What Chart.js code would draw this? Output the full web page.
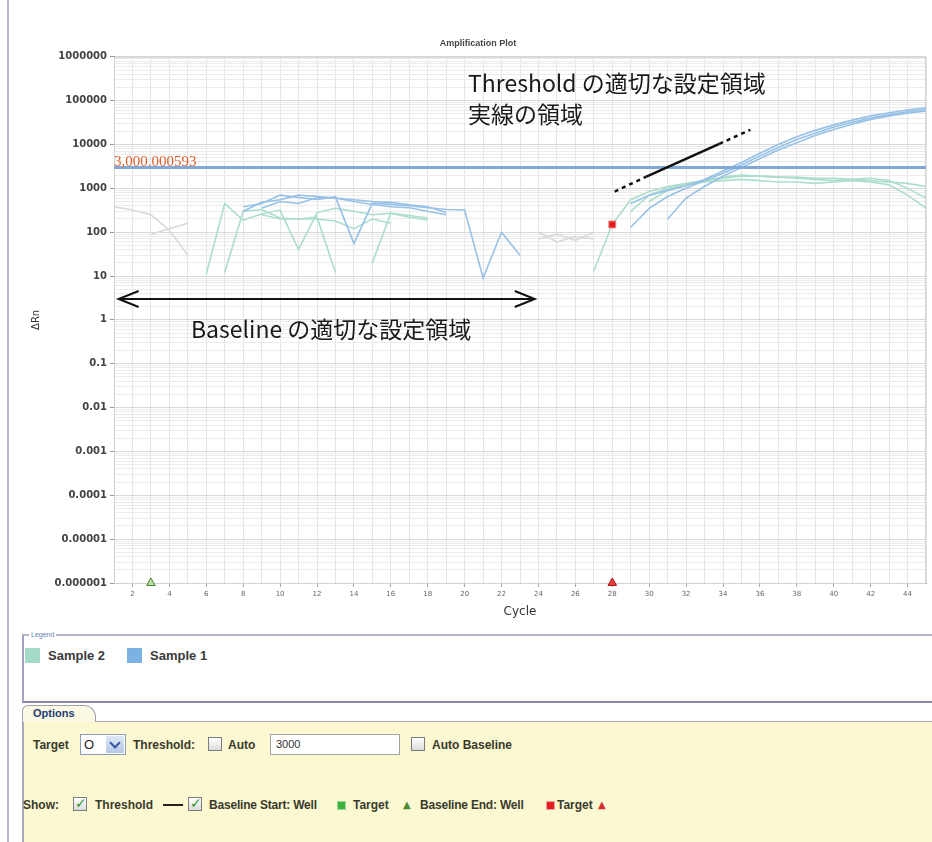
<!DOCTYPE html>
<html><head><meta charset="utf-8">
<script src="https://cdn.jsdelivr.net/npm/chart.js@4.4.1/dist/chart.umd.min.js"></script>
<style>
html,body{margin:0;padding:0;background:#fff;}
body{width:932px;height:842px;overflow:hidden;position:relative;font-family:"Liberation Sans",Arial,sans-serif;}
.abs{position:absolute;white-space:nowrap;}
.jp{font-family:"Noto Sans CJK JP","Noto Sans",sans-serif;font-size:23px;line-height:23px;color:#1a1a1a;}
.opt{font-size:12px;font-weight:bold;color:#3a3a2c;line-height:14px;}
.cb{position:absolute;width:14px;height:14px;border:1px solid #7c7c7c;background:linear-gradient(#ffffff,#dcdcdc);box-sizing:border-box;}
.cb.on::after{content:"\2713";position:absolute;left:1px;top:-3px;font-size:14px;font-weight:bold;color:#2f9a2f;font-family:"DejaVu Sans",sans-serif;}
</style></head>
<body>
<div class="abs" style="left:0;top:0;width:932px;height:630px;"><canvas id="c" width="932" height="630"></canvas></div>
<div class="abs" style="left:7px;top:0;width:2px;height:842px;background:#b6b6d0;"></div>

<!-- annotation texts -->
<div class="abs jp" style="left:468px;top:71px;">Threshold の適切な設定領域</div>
<div class="abs jp" style="left:468px;top:102px;">実線の領域</div>
<div class="abs jp" style="left:191px;top:317px;">Baseline の適切な設定領域</div>

<!-- legend box -->
<div class="abs" style="left:22px;top:634px;width:912px;height:65px;border-top:2px solid #b4b4ca;border-left:2px solid #a4a4c0;border-bottom:2px solid #8a8ab0;"></div>
<div class="abs" style="left:29px;top:630px;font-size:7px;line-height:9px;color:#6684b4;background:#fff;padding:0 2px;">Legend</div>
<div id="legend" class="abs" style="left:25px;top:648px;display:flex;align-items:center;"></div>

<!-- options -->
<div class="abs" style="left:22px;top:721px;width:912px;height:121px;background:#fbf8d2;border-top:1px solid #a9a9b4;border-left:2px solid #a8a8b8;"></div>
<div class="abs" style="left:22px;top:705px;width:72px;height:16px;background:#fcfae4;border:1px solid #a0a0b0;border-bottom:none;border-radius:6px 12px 0 0;"></div>
<div class="abs" style="left:33px;top:707px;font-size:11px;font-weight:bold;color:#243c70;">Options</div>

<div class="abs opt" style="left:33px;top:738px;">Target</div>
<div class="abs" style="left:80px;top:734px;width:46px;height:21px;border:1px solid #8b9bbb;background:#fff;box-sizing:border-box;">
  <span class="abs" style="left:3px;top:2px;font-size:13px;color:#222;">O</span>
  <div class="abs" style="left:25px;top:1px;width:18px;height:17px;background:linear-gradient(#dfe8f6,#b6c8e6);"></div>
  <div class="abs" style="left:30px;top:4px;width:6px;height:6px;border-right:2px solid #3558a8;border-bottom:2px solid #3558a8;transform:rotate(45deg);"></div>
</div>
<div class="abs opt" style="left:133px;top:738px;">Threshold:</div>
<div class="cb" style="left:208px;top:737px;"></div>
<div class="abs opt" style="left:228px;top:738px;">Auto</div>
<div class="abs" style="left:270px;top:734px;width:130px;height:21px;border:1px solid #a4a4a4;background:#fff;box-sizing:border-box;font-size:11px;color:#333;padding:3px 5px;">3000</div>
<div class="cb" style="left:411px;top:737px;"></div>
<div class="abs opt" style="left:432px;top:738px;">Auto Baseline</div>

<div class="abs opt" style="left:23px;top:798px;">Show:</div>
<div class="cb on" style="left:73px;top:797px;"></div>
<div class="abs opt" style="left:95px;top:798px;">Threshold</div>
<div class="abs" style="left:163px;top:804px;width:20px;height:2px;background:#222;"></div>
<div class="cb on" style="left:188px;top:797px;"></div>
<div class="abs opt" style="left:209px;top:798px;letter-spacing:-0.2px;">Baseline Start: Well</div>
<div class="abs" style="left:337px;top:801px;width:7px;height:7px;background:#3cb43c;border:1px solid #9ad89a;"></div>
<div class="abs opt" style="left:353px;top:798px;">Target</div>
<div class="abs" style="left:403px;top:799px;font-size:10px;color:#4e8c34;font-family:'DejaVu Sans';">▲</div>
<div class="abs opt" style="left:420px;top:798px;letter-spacing:-0.2px;">Baseline End: Well</div>
<div class="abs" style="left:546px;top:801px;width:7px;height:7px;background:#e41c1c;border:1px solid #f4a0a0;"></div>
<div class="abs opt" style="left:557px;top:798px;">Target</div>
<div class="abs" style="left:598px;top:799px;font-size:10px;color:#d42c2c;font-family:'DejaVu Sans';">▲</div>

<script>
const _ = null;
// ---- data ----
const cycles = [1,2,3,4,5,6,7,8,9,10,11,12,13,14,15,16,17,18,19,20,21,22,23,24,25,26,27,28,29,30,31,32,33,34,35,36,37,38,39,40,41,42,43,44,45];
const xTickLabels = [2,4,6,8,10,12,14,16,18,20,22,24,26,28,30,32,34,36,38,40,42,44];
const yTickValues = [0.000001,0.00001,0.0001,0.001,0.01,0.1,1,10,100,1000,10000,100000,1000000];
const yTickLabels = ['0.000001','0.00001','0.0001','0.001','0.01','0.1','1','10','100','1000','10000','100000','1000000'];

const sampleNames = ['Sample 2','Sample 1'];
const sampleColors = ['#a6dac8','#7ab3e3'];

// Sample 1 wells (ΔRn per cycle)
const s1WellA = [_,_,_,_,_,_,_, 380,450,700,620,560,640,55,460,430,400,360,330,320,9,100,30, _,_,_,_,_, 130,350,650,1000,1500,2200,3400,5500,8500,13000,18000,25000,32000,40000,48000,56000,63000];
const s1WellB = [_,_,_,_,_,_,_, 300,480,550,700,650,600,550,500,480,420,380,280, _,_,_,_,_,_,_,_,_, 450,700,900,1150,1600,2500,3900,6300,10000,15000,21000,28000,36000,45000,53000,61000,69000];
const s1WellC = [_,_,_,_,_,_,_,_, 350,500,450,620,600,500,430,380,360,300,250, _,_,_,_,_,_,_,_,_,_,_, 200,600,1100,1900,3000,4800,7500,11000,16000,22000,29000,37000,45000,52000,58000];
// Sample 2 wells
const s2WellA = [_,_,_,_,_, 11,450,190,260,320,40,280,350,300,250,270,240,210, _,_,_,_,_,_,_,_, 13,150,550,850,1100,1300,1500,1700,1900,1900,1800,1700,1600,1500,1600,1700,1500,1000,600];
const s2WellB = [_,_,_,_,_,_, 12,300,330,210,200,220,12, _, 20,270,220,190, _,_,_,_,_,_,_,_,_,_,_, 500,900,1200,1500,1800,2000,1900,1800,1800,1700,1700,1600,1500,1400,1300,1100];
const s2WellC = [_,_,_,_,_,_,_,_, 250,200,200,200,180,120,200,160, _,_,_,_,_,_,_,_,_,_,_,_, 300,700,1000,1200,1400,1500,1600,1500,1400,1400,1300,1400,1500,1400,1200,700,350];
// faint background traces
const bgWellA = [380,320,250,110,30, _,_,_,_,_,_,_,_,_,_,_,_,_,_,_,_,_,_,_,_,_,_,_,_,_,_,_,_,_,_,_,_,_,_,_,_,_,_,_,_];
const bgWellB = [_,_,90,120,160, _,_,_,_,_,_,_,_,_,_,_,_,_,_,_,_,_,_,_,_,_,_,_,_,_,_,_,_,_,_,_,_,_,_,_,_,_,_,_,_];
const bgWellC = [_,_,_,_,_,_,_,_,_,_,_,_,_,_,_,_,_,_,_,_,_,_,_, 100,60,80,70, _,_,_,_,_,_,_,_,_,_,_,_,_,_,_,_,_,_];
const bgWellD = [_,_,_,_,_,_,_,_,_,_,_,_,_,_,_,_,_,_,_,_,_,_,_, 70,90,65,100, _,_,_,_,_,_,_,_,_,_,_,_,_,_,_,_,_,_];

const threshold = 3000;
const thresholdLabel = '3,000.000593';
const baselineStartCycle = 3;
const baselineEndCycle = 28;
const baselineEndValue = 150;

// annotation guides (data coordinates)
const baselineArrow = {from: 1.25, to: 23.8, value: 3};
const thresholdGuide = [[28.13, 845], [29.82, 1830], [33.8, 10350], [35.48, 21600]];

// ---- build ----
const lineColor = {'Sample 1': '#97c1e7', 'Sample 2': '#addecd', 'Background': '#d8d8d8'};
const wells = [
  ['Sample 1', s1WellA], ['Sample 1', s1WellB], ['Sample 1', s1WellC],
  ['Sample 2', s2WellA], ['Sample 2', s2WellB], ['Sample 2', s2WellC],
  ['Background', bgWellA], ['Background', bgWellB], ['Background', bgWellC], ['Background', bgWellD]
];

const datasets = [];
datasets.push({
  label: 'Baseline markers',
  data: [{x: baselineEndCycle, y: baselineEndValue}, {x: baselineStartCycle, y: yTickValues[0]}, {x: baselineEndCycle, y: yTickValues[0]}],
  showLine: false, clip: false,
  pointStyle: ['rect', 'triangle', 'triangle'],
  pointRadius: [5, 5, 5],
  pointBackgroundColor: ['#e41c1c', '#b9df9c', '#e04040'],
  pointBorderColor: ['#f29a9a', '#4b7d33', '#b01818'],
  pointBorderWidth: 1
});
datasets.push({
  label: 'Threshold',
  data: [{x: cycles[0], y: threshold}, {x: cycles[cycles.length - 1], y: threshold}],
  borderColor: '#80a9d8', borderWidth: 3, pointRadius: 0
});
wells.forEach(([name, vals]) => {
  datasets.push({
    label: name,
    data: cycles.map((c, i) => ({x: c, y: vals[i]})),
    borderColor: lineColor[name], borderWidth: 1.6, pointRadius: 0, spanGaps: false, tension: 0
  });
});

const isDecade = v => v != null && Math.abs(Math.log10(v) - Math.round(Math.log10(v))) < 1e-9;

const annot = {
  id: 'annot',
  beforeDatasetsDraw(chart) {
    const {ctx, chartArea: a} = chart;
    ctx.save();
    ctx.strokeStyle = '#d2d2d2'; ctx.lineWidth = 1;
    ctx.strokeRect(a.left + 0.5, a.top + 0.5, a.width - 1, a.height);
    ctx.restore();
  },
  afterDatasetsDraw(chart) {
    const {ctx, scales: {x, y}, chartArea: a} = chart;
    ctx.save();
    // threshold value label
    ctx.font = '15px "Liberation Serif", serif';
    ctx.fillStyle = '#e2602e';
    ctx.textBaseline = 'alphabetic';
    ctx.fillText(thresholdLabel, a.left, y.getPixelForValue(threshold) - 1);
    // baseline double arrow
    const x0 = x.getPixelForValue(baselineArrow.from), x1 = x.getPixelForValue(baselineArrow.to);
    const yy = y.getPixelForValue(baselineArrow.value);
    ctx.strokeStyle = '#111'; ctx.lineWidth = 2;
    ctx.beginPath(); ctx.moveTo(x0, yy); ctx.lineTo(x1, yy); ctx.stroke();
    ctx.beginPath();
    ctx.moveTo(x0 + 20, yy - 8); ctx.lineTo(x0, yy); ctx.lineTo(x0 + 20, yy + 8);
    ctx.moveTo(x1 - 20, yy - 8); ctx.lineTo(x1, yy); ctx.lineTo(x1 - 20, yy + 8);
    ctx.stroke();
    // threshold guide: dotted - solid - dotted
    const p = thresholdGuide.map(([c, v]) => [x.getPixelForValue(c), y.getPixelForValue(v)]);
    ctx.lineWidth = 2.5;
    for (let i = 0; i < 3; i++) {
      ctx.setLineDash(i === 1 ? [] : [4, 4]);
      ctx.beginPath(); ctx.moveTo(p[i][0], p[i][1]); ctx.lineTo(p[i + 1][0], p[i + 1][1]); ctx.stroke();
    }
    ctx.restore();
  }
};

new Chart(document.getElementById('c'), {
  type: 'line',
  data: {datasets},
  plugins: [annot],
  options: {
    responsive: false, animation: false, devicePixelRatio: 1,
    layout: {padding: {left: 26, right: 2, top: 0, bottom: 7}},
    plugins: {
      legend: {display: false}, tooltip: {enabled: false},
      title: {display: true, text: 'Amplification Plot', color: '#444',
        font: {family: '"Liberation Sans", Arial', size: 9, weight: 'bold'}, padding: {top: 38, bottom: 8}}
    },
    scales: {
      x: {
        type: 'linear', min: cycles[0], max: cycles[cycles.length - 1],
        afterBuildTicks: s => { s.ticks = cycles.map(v => ({value: v})); },
        afterFit: s => { s.height = 40; },
        ticks: {autoSkip: false, maxRotation: 0, padding: 3, color: '#666',
          font: {family: '"DejaVu Sans"', size: 7},
          callback: v => xTickLabels.includes(v) ? String(v) : ''},
        grid: {color: '#e5e5e5', tickLength: 4,
          tickColor: c => (c.tick && xTickLabels.includes(c.tick.value)) ? '#aaa' : 'rgba(0,0,0,0)'},
        border: {color: '#9c9c9c'},
        title: {display: true, text: 'Cycle', color: '#333', font: {family: '"DejaVu Sans"', size: 12}, padding: {top: 0, bottom: 4}}
      },
      y: {
        type: 'logarithmic', min: yTickValues[0], max: yTickValues[yTickValues.length - 1],
        afterBuildTicks: s => {
          const t = [];
          yTickValues.forEach((v, i) => {
            t.push({value: v});
            if (i < yTickValues.length - 1) for (let k = 2; k <= 9; k++) t.push({value: v * k});
          });
          s.ticks = t;
        },
        afterFit: s => { s.width = 88; },
        ticks: {autoSkip: false, padding: 3, color: '#444',
          font: {family: '"DejaVu Sans"', size: 10, weight: 'bold'},
          callback: v => { const i = yTickValues.findIndex(d => Math.abs(d - v) / d < 1e-9); return i >= 0 ? yTickLabels[i] : ''; }},
        grid: {tickLength: 4,
          color: c => (c.tick && isDecade(c.tick.value)) ? '#d9d9d9' : '#ececec',
          tickColor: c => (c.tick && isDecade(c.tick.value)) ? '#999' : 'rgba(0,0,0,0)'},
        border: {color: '#9c9c9c'},
        title: {display: true, text: 'ΔRn', color: '#333', font: {family: '"DejaVu Sans"', size: 10}, padding: {top: 4, bottom: 4}}
      }
    }
  }
});

// HTML legend from the sample arrays
const lg = document.getElementById('legend');
sampleNames.forEach((n, i) => {
  const sw = document.createElement('span');
  sw.style.cssText = 'display:inline-block;width:15px;height:15px;background:' + sampleColors[i] + ';margin-right:8px;';
  const tx = document.createElement('span');
  tx.textContent = n;
  tx.style.cssText = 'font-size:13px;font-weight:bold;color:#3a3a3a;margin-right:22px;';
  lg.appendChild(sw); lg.appendChild(tx);
});
</script>
</body></html>
